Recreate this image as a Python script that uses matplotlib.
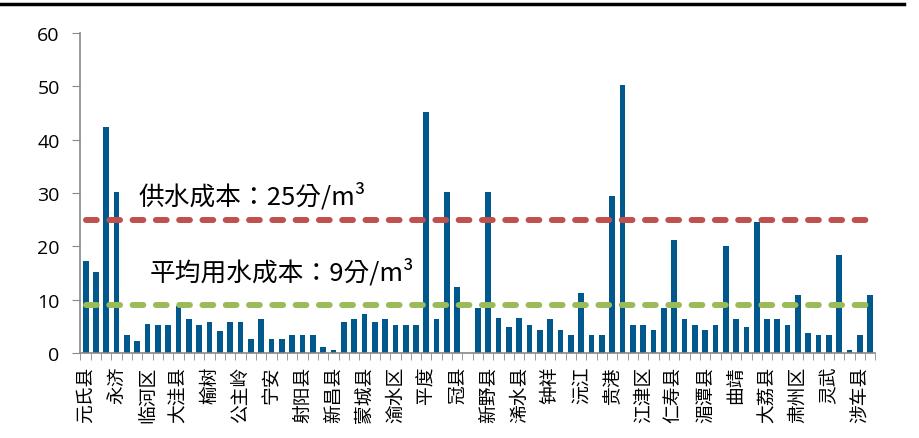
import matplotlib.pyplot as plt
import numpy as np
from matplotlib.lines import Line2D

plt.rcParams['font.family'] = ['Noto Sans CJK SC', 'DejaVu Sans']

# 各地水价（分/m³），按地区顺序
values = [17.3, 15.1, 42.3, 30.1, 3.4, 2.2, 5.5, 5.2, 5.2, 8.9,
          6.3, 5.2, 5.9, 4.1, 5.9, 5.9, 2.6, 6.3, 2.6, 2.6,
          3.4, 3.4, 3.4, 1.2, 0.5, 5.9, 6.3, 7.3, 5.9, 6.3,
          5.2, 5.2, 5.2, 45.1, 6.3, 30.1, 12.3, 0, 8.4, 30.1,
          6.6, 4.8, 6.6, 5.2, 4.4, 6.3, 4.4, 3.4, 11.3, 3.4,
          3.4, 29.4, 50.2, 5.2, 5.2, 4.4, 8.4, 21.2, 6.3, 5.2,
          4.4, 5.2, 20.1, 6.3, 4.8, 24.5, 6.3, 6.3, 5.2, 10.9,
          3.8, 3.4, 3.4, 18.4, 0.5, 3.4, 10.9]

# 每隔两个地区标注一次
tick_names = ['元氏县', '永济', '临河区', '大洼县', '榆树', '公主岭', '宁安',
              '射阳县', '新昌县', '蒙城县', '渝水区', '平度', '冠县', '新野县',
              '浠水县', '钟祥', '沅江', '贵港', '江津区', '仁寿县', '湄潭县',
              '曲靖', '大荔县', '肃州区', '灵武', '涉车县']

supply_cost = 25
avg_cost = 9

x = np.arange(len(values))

fig = plt.figure(figsize=(9.2, 4.39), dpi=100)
ax = fig.add_axes([0.0875, 0.1936, 0.864, 0.729])

ax.bar(x, values, width=0.55, color='#00588C', zorder=2)

# 两条参考虚线
dash = (0, (1.8, 2.1))
ax.plot([0, len(values) - 0.7], [supply_cost] * 2, color='#C0504D', lw=4.3,
        ls=dash, dash_capstyle='round', zorder=3)
ax.plot([0, len(values) - 0.7], [avg_cost] * 2, color='#9BBB59', lw=4.3,
        ls=dash, dash_capstyle='round', zorder=3)

label_font = ['Noto Sans CJK TC', 'DejaVu Sans']
ax.text(5.1, 29.4, '供水成本：25分/m³', fontsize=18.5, va='center', ha='left',
        family=label_font)
ax.text(6.2, 15.2, '平均用水成本：9分/m³', fontsize=18.5, va='center', ha='left',
        family=label_font)

ax.set_xlim(-0.5, len(values) - 0.5)
ax.set_ylim(0, 60)
ax.set_yticks(range(0, 61, 10))
ax.tick_params(axis='y', length=6, color='#888888', pad=9)
for lab in ax.get_yticklabels():
    lab.set_family('Open Sans')
    lab.set_fontsize(14)

ax.set_xticks(x[::3])
ax.set_xticklabels(tick_names, rotation=90, fontsize=13.5)
ax.set_xticks(np.arange(-0.5, len(values), 1), minor=True)
ax.tick_params(axis='x', which='major', length=0, pad=9)
ax.tick_params(axis='x', which='minor', length=5, color='#888888')

for s in ['top', 'right']:
    ax.spines[s].set_visible(False)
for s in ['left', 'bottom']:
    ax.spines[s].set_color('#888888')
    ax.spines[s].set_linewidth(1.2)

# 顶部黑色分隔线
fig.add_artist(Line2D([0, 0.983], [0.988, 0.988], color='black', lw=2.5,
                      transform=fig.transFigure))

fig.savefig('out.png', dpi=100)
